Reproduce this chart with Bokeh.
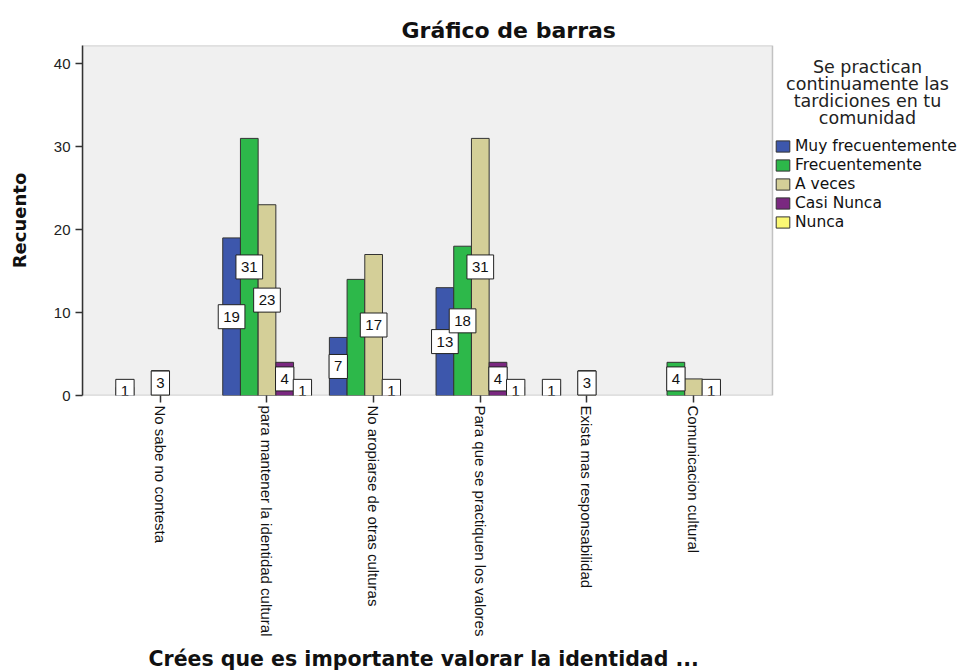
import math
from bokeh.plotting import figure
from bokeh.models import (Range1d, FixedTicker, Legend, LegendItem, ColumnDataSource, Label,
                          BoxAnnotation, Title)
from bokeh.core.properties import value
from bokeh.embed import file_html
from bokeh.resources import INLINE

categories = ["No sabe no contesta", "para mantener la identidad cultural",
              "No aropiarse de otras culturas", "Para que se practiquen los valores",
              "Exista mas responsabilidad", "Comunicacion  cultural"]
series_names = ["Muy frecuentemente", "Frecuentemente", "A veces", "Casi Nunca", "Nunca"]
muy_frecuentemente = [1, 19, 7, 13, 1, 0]
frecuentemente = [0, 31, 14, 18, 0, 4]
a_veces = [3, 23, 17, 31, 3, 2]
casi_nunca = [0, 4, 1, 4, 0, 1]
nunca = [0, 1, 0, 1, 0, 0]
# value labels shown in the chart ("" = not shown)
muy_labels = ["1", "19", "7", "13", "1", ""]
frec_labels = ["", "31", "", "18", "", "4"]
aveces_labels = ["3", "23", "17", "31", "3", ""]
casi_labels = ["", "4", "1", "4", "", "1"]
nunca_labels = ["", "1", "", "1", "", ""]
y_ticks = [0, 10, 20, 30, 40]
legend_title_lines = ["Se practican", "continuamente las", "tardiciones en tu", "comunidad"]

series_values = [muy_frecuentemente, frecuentemente, a_veces, casi_nunca, nunca]
series_labels = [muy_labels, frec_labels, aveces_labels, casi_labels, nunca_labels]
colors = ["#3D57AC", "#2DB84A", "#D4CF98", "#7A2880", "#FBF874"]

# geometry (pixels)
FRAME_LEFT, FRAME_TOP = 82, 45
PLOT_W, FRAME_H, FRAME_W = 690, 350, 881
X0, X1 = -0.73, 5.74
Y1 = 42.2
PX_PER_X = PLOT_W / (X1 - X0)
PX_PER_Y = FRAME_H / Y1

p = figure(frame_width=FRAME_W, frame_height=FRAME_H, output_backend="svg", toolbar_location=None,
           x_range=Range1d(X0, X0 + FRAME_W / PX_PER_X), y_range=Range1d(0, Y1),
           min_border_left=FRAME_LEFT, min_border_right=0, min_border_top=FRAME_TOP,
           min_border_bottom=0)
p.background_fill_color = "white"
p.border_fill_color = "white"
p.outline_line_color = None
p.grid.visible = False

# plotting area (grey panel with frame)
p.add_layout(BoxAnnotation(left=X0, right=X1, bottom=0, top=Y1, fill_color="#F0F0F0", fill_alpha=1,
                           line_color="#4A4A4A", line_width=1.5, level="underlay"))

p.title.text = "Gráfico de barras"
p.title.text_font = "DejaVu Sans"
p.title.text_font_size = "22px"
p.title.text_font_style = "bold"
p.title.text_color = "#111111"
p.title.align = "left"
p.title.offset = 319
p.title.standoff = 6

bw = 0.166
items = []
for i, (name, vals, col) in enumerate(zip(series_names, series_values, colors)):
    ks = [k for k in range(len(categories)) if vals[k] > 0]
    src = ColumnDataSource(dict(x=[k + (i - 2) * bw for k in ks], top=[vals[k] for k in ks]))
    r = p.vbar(x="x", top="top", width=bw, source=src, fill_color=col,
               line_color="#333333", line_width=1)
    items.append(LegendItem(label=name, renderers=[r]))

for i, (vals, labs) in enumerate(zip(series_values, series_labels)):
    ks = [k for k in range(len(categories)) if labs[k]]
    p.text(x=[k + (i - 2) * bw for k in ks], y=[vals[k] / 2 for k in ks],
           text=[labs[k] for k in ks], text_align="center", text_baseline="middle",
           text_font=value("Liberation Sans"), text_font_size="15px", text_color="#111111",
           background_fill_color="white", border_line_color="#222222", border_line_width=1,
           padding=(5, 7))

# axes
p.xaxis.ticker = FixedTicker(ticks=list(range(len(categories))))
p.xaxis.major_label_overrides = {k: c for k, c in enumerate(categories)}
p.xaxis.major_label_orientation = -math.pi / 2
p.xaxis.major_label_text_font = "Liberation Sans"
p.xaxis.major_label_text_font_size = "15px"
p.xaxis.major_label_text_color = "#111111"
p.xaxis.major_label_standoff = 3
p.xaxis.axis_line_color = None

p.add_layout(Title(text="Crées que es importante valorar la identidad ...", align="left",
                   offset=148 - FRAME_LEFT, text_font="DejaVu Sans", text_font_size="20.5px",
                   text_font_style="bold", text_color="#111111", standoff=10), "below")

p.yaxis.ticker = FixedTicker(ticks=y_ticks)
p.yaxis.major_label_text_font = "Liberation Sans"
p.yaxis.major_label_text_font_size = "15px"
p.yaxis.major_label_text_color = "#222222"
p.yaxis.axis_label = "Recuento"
p.yaxis.axis_label_text_font = "DejaVu Sans"
p.yaxis.axis_label_text_font_size = "18px"
p.yaxis.axis_label_text_font_style = "bold"
p.yaxis.axis_label_text_color = "#111111"
p.yaxis.axis_label_standoff = 21
p.yaxis.axis_line_color = "#333333"
p.yaxis.axis_line_width = 1.5

for ax in (p.xaxis, p.yaxis):
    ax.major_tick_line_color = "#333333"
    ax.major_tick_line_width = 1.5
    ax.major_tick_out = 7
    ax.major_tick_in = 0
    ax.minor_tick_line_color = None

# legend title, centred above the legend items
def px_to_x(px):
    return X0 + (px - FRAME_LEFT) / PX_PER_X

def py_to_y(py):
    return (FRAME_TOP + FRAME_H - py) / PX_PER_Y

for j, line in enumerate(legend_title_lines):
    p.add_layout(Label(x=px_to_x(867), y=py_to_y(66 + j * 17.2),
                       text=line, text_align="center", text_baseline="middle",
                       text_font="DejaVu Sans", text_font_size="17.5px", text_color="#222222"))

legend = Legend(items=items, location=(774 - FRAME_LEFT, FRAME_TOP + FRAME_H - 231))
legend.label_text_font = "DejaVu Sans"
legend.label_text_font_size = "15.5px"
legend.label_text_color = "#111111"
legend.glyph_width = 17
legend.glyph_height = 14
legend.label_height = 19
legend.label_standoff = 4
legend.spacing = 0
legend.padding = 0
legend.margin = 0
legend.border_line_color = None
legend.background_fill_color = None
legend.background_fill_alpha = 0
p.add_layout(legend)

open("out.html", "w").write(file_html(p, INLINE))
